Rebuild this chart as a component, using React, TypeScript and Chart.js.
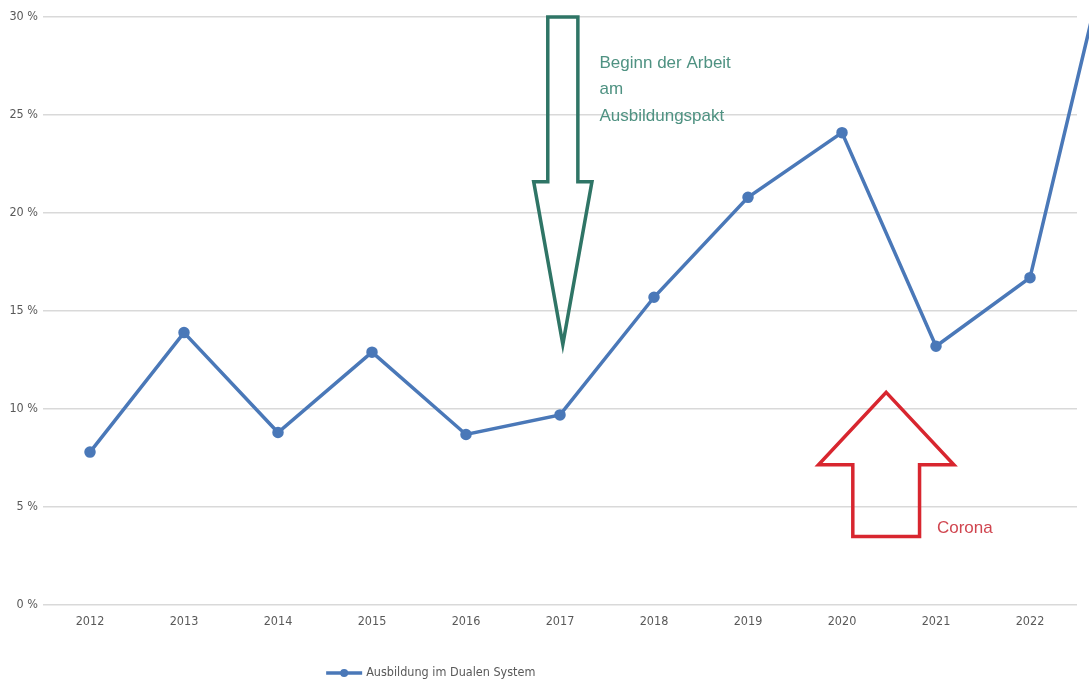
import React, { useEffect, useRef } from "react";
import { Chart, registerables } from "chart.js";

Chart.register(...registerables);

const years = [2012, 2013, 2014, 2015, 2016, 2017, 2018, 2019, 2020, 2021, 2022, 2023];
const values = [7.8, 13.9, 8.8, 12.9, 8.7, 9.7, 15.7, 20.8, 24.1, 13.2, 16.7, 36.8];
const tickYears = [2012, 2013, 2014, 2015, 2016, 2017, 2018, 2019, 2020, 2021, 2022];
const yTicks = [0, 5, 10, 15, 20, 25, 30];
const seriesName = "Ausbildung im Dualen System";

const greenLabel = ["Beginn der Arbeit", "am", "Ausbildungspakt"];
const redLabel = ["Corona"];

const LINE_COLOR = "#4a78b8";
const GRID_COLOR = "#d9d9d9";
const TICK_COLOR = "#595959";
const NARROW = '"DejaVu Sans Condensed", "Liberation Sans Narrow", sans-serif';
const SANS = '"Liberation Sans", Arial, sans-serif';

// arrow geometry in data units: center x, tip y, head base y, tail y, head half width, shaft half width
const greenArrow = { x: 2017.03, tip: 13.3, base: 21.6, tail: 30, head: 0.31, shaft: 0.16 };
const redArrow = { x: 2020.47, tip: 10.85, base: 7.15, tail: 3.5, head: 0.72, shaft: 0.355 };

function drawArrow(chart: any, a: any, color: string) {
  const xs = chart.scales.x;
  const ys = chart.scales.y;
  const cx = xs.getPixelForValue(a.x);
  const px = (dv: number) => xs.getPixelForValue(a.x + dv) - cx;
  const tip = ys.getPixelForValue(a.tip);
  const base = ys.getPixelForValue(a.base);
  const tail = ys.getPixelForValue(a.tail);
  const h = px(a.head);
  const s = px(a.shaft);
  const ctx = chart.ctx;
  ctx.save();
  ctx.beginPath();
  ctx.moveTo(cx, tip);
  ctx.lineTo(cx + h, base);
  ctx.lineTo(cx + s, base);
  ctx.lineTo(cx + s, tail);
  ctx.lineTo(cx - s, tail);
  ctx.lineTo(cx - s, base);
  ctx.lineTo(cx - h, base);
  ctx.closePath();
  ctx.lineWidth = 3.5;
  ctx.lineJoin = "miter";
  ctx.strokeStyle = color;
  ctx.stroke();
  ctx.restore();
}

function drawLines(chart: any, lines: string[], xv: number, yv: number, color: string) {
  const ctx = chart.ctx;
  const x = chart.scales.x.getPixelForValue(xv);
  const y = chart.scales.y.getPixelForValue(yv);
  ctx.save();
  ctx.font = `17px ${SANS}`;
  ctx.fillStyle = color;
  ctx.textBaseline = "middle";
  ctx.textAlign = "left";
  lines.forEach((t, i) => ctx.fillText(t, x, y + i * 26.5));
  ctx.restore();
}

const annotationPlugin = {
  id: "arrows",
  afterDatasetsDraw(chart: any) {
    drawArrow(chart, greenArrow, "#2f7566");
    drawArrow(chart, redArrow, "#d8262f");
    drawLines(chart, greenLabel, 2017.42, 27.65, "#4f9282");
    drawLines(chart, redLabel, 2021.01, 3.9, "#d0454f");
  },
};

const legendPlugin = {
  id: "customLegend",
  afterDraw(chart: any) {
    const ctx = chart.ctx;
    const y = chart.height - 11;
    const x0 = chart.width * 0.2995;
    ctx.save();
    ctx.strokeStyle = LINE_COLOR;
    ctx.lineWidth = 3.5;
    ctx.beginPath();
    ctx.moveTo(x0, y);
    ctx.lineTo(x0 + 36, y);
    ctx.stroke();
    ctx.fillStyle = LINE_COLOR;
    ctx.beginPath();
    ctx.arc(x0 + 18, y, 4, 0, Math.PI * 2);
    ctx.fill();
    ctx.font = `12.5px ${NARROW}`;
    ctx.fillStyle = TICK_COLOR;
    ctx.textBaseline = "middle";
    ctx.textAlign = "left";
    ctx.fillText(seriesName, x0 + 40, y);
    ctx.restore();
  },
};

export default function App() {
  const ref = useRef<HTMLCanvasElement | null>(null);
  useEffect(() => {
    document.body.style.margin = "0";
    if (!ref.current) return;
    const chart = new Chart(ref.current, {
      type: "line",
      data: {
        datasets: [
          {
            label: seriesName,
            data: years.map((x, i) => ({ x, y: values[i] })),
            borderColor: LINE_COLOR,
            backgroundColor: LINE_COLOR,
            borderWidth: 3.5,
            pointRadius: 4,
            pointHoverRadius: 4,
            pointBackgroundColor: LINE_COLOR,
            pointBorderColor: LINE_COLOR,
            tension: 0,
            clip: false as any,
          },
        ],
      },
      options: {
        animation: false,
        responsive: true,
        maintainAspectRatio: false,
        layout: { padding: { top: 17, right: 12, bottom: 49, left: 0 } },
        plugins: {
          legend: { display: false },
          tooltip: { enabled: false },
        },
        scales: {
          x: {
            type: "linear",
            min: 2011.5,
            max: 2022.5,
            afterBuildTicks: (scale: any) => {
              scale.ticks = tickYears.map((v) => ({ value: v }));
            },
            afterFit: (scale: any) => {
              scale.height = 30;
            },
            grid: { display: false, drawTicks: false },
            border: { display: false },
            ticks: {
              padding: 9,
              color: TICK_COLOR,
              font: { family: NARROW, size: 12.5 },
              callback: (v: any) => String(v),
              maxRotation: 0,
              autoSkip: false,
            },
          },
          y: {
            min: 0,
            max: 30,
            afterBuildTicks: (scale: any) => {
              scale.ticks = yTicks.map((v) => ({ value: v }));
            },
            afterFit: (scale: any) => {
              scale.width = 43;
            },
            grid: { color: GRID_COLOR, lineWidth: 1.5, drawTicks: false },
            border: { display: false },
            ticks: {
              padding: 5,
              color: TICK_COLOR,
              font: { family: NARROW, size: 12.5 },
              callback: (v: any) => `${v} %`,
            },
          },
        },
      },
      plugins: [annotationPlugin, legendPlugin],
    });
    return () => chart.destroy();
  }, []);
  return (
    <div style={{ width: 1089, height: 684, position: "relative", background: "#fff" }}>
      <canvas ref={ref} />
    </div>
  );
}
